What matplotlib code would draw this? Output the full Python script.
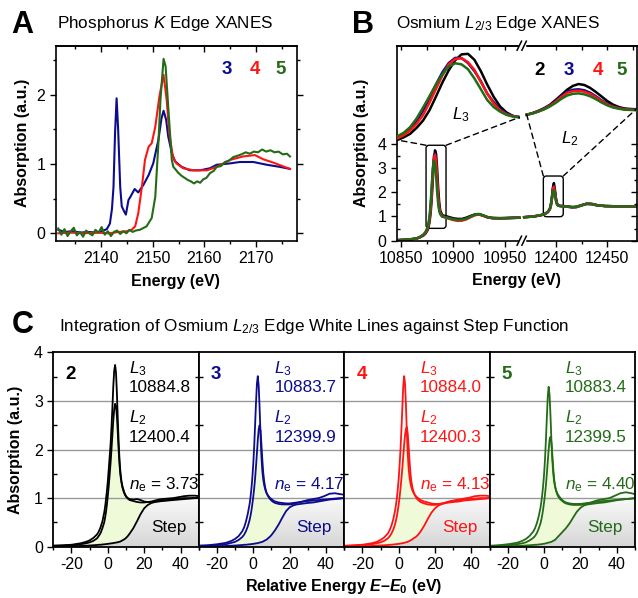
import numpy as np
import matplotlib
matplotlib.use("Agg")
import matplotlib.pyplot as plt
from matplotlib.ticker import MultipleLocator, FixedLocator
from matplotlib.patches import FancyBboxPatch, ConnectionPatch
from matplotlib.lines import Line2D
from matplotlib.colors import LinearSegmentedColormap

plt.rcParams['font.family'] = ['Liberation Sans', 'DejaVu Sans']
plt.rcParams['mathtext.fontset'] = 'custom'
plt.rcParams['mathtext.rm'] = 'Liberation Sans'
plt.rcParams['mathtext.it'] = 'Liberation Sans:italic'
plt.rcParams['mathtext.bf'] = 'Liberation Sans:bold'
plt.rcParams['mathtext.bfit'] = 'Liberation Sans:italic:bold'
plt.rcParams['axes.unicode_minus'] = False

BLK, BLU, RED, GRN = 'black', '#0c0c8c', '#ff1414', '#236b17'

# ---------------- panel A: P K edge ----------------
e_p3 = [2131.7, 2133, 2134.5, 2136, 2137.5, 2139, 2140.1, 2141.1, 2141.7, 2142.1, 2142.4,
        2142.7, 2143.0, 2143.3, 2143.7, 2144.0, 2144.5, 2144.8, 2145.3, 2145.7, 2146.5,
        2147.2, 2148.2, 2149.2, 2150.1, 2151.1, 2151.7, 2152.1, 2152.6, 2153.0, 2153.7,
        2154.3, 2155.6, 2157.2, 2159.2, 2161.1, 2162.4, 2165.0, 2166.9, 2169.5, 2172.1,
        2174.6, 2176.6]
a_p3 = [0.05, 0.02, 0.03, 0.01, 0.02, 0.01, 0.03, 0.06, 0.14, 0.35, 0.67, 1.45, 1.95, 1.5,
        0.67, 0.39, 0.31, 0.27, 0.48, 0.53, 0.64, 0.59, 0.7, 0.84, 1.01, 1.35, 1.66, 1.77,
        1.64, 1.4, 1.16, 1.04, 0.96, 0.91, 0.91, 0.94, 0.99, 1.01, 1.03, 1.03, 0.99, 0.96, 0.93]

e_p4 = [2131.7, 2134, 2136.5, 2139, 2141.5, 2143.5, 2145.0, 2145.9, 2146.6, 2147.2, 2147.9,
        2148.5, 2149.2, 2149.8, 2150.5, 2151.3, 2152.1, 2152.7, 2153.2, 2153.9, 2154.6,
        2155.9, 2157.9, 2160.5, 2162.4, 2165.0, 2167.5, 2169.8, 2171.4, 2173.4, 2176.6]
a_p4 = [0.0, 0.01, 0.0, 0.01, 0.0, 0.02, 0.03, 0.05, 0.1, 0.29, 0.67, 1.06, 1.25, 1.3, 1.54,
        1.98, 2.29, 1.93, 1.45, 1.11, 1.01, 0.94, 0.91, 0.91, 0.96, 1.06, 1.11, 1.13, 1.07,
        1.02, 0.93]

e_p5 = [2131.7, 2132.3, 2132.9, 2133.5, 2134.1, 2134.7, 2135.3, 2135.9, 2136.5, 2137.1,
        2137.7, 2138.3, 2138.9, 2139.5, 2140.1, 2140.7, 2141.3, 2141.9, 2142.5, 2143.1,
        2143.7, 2144.3, 2144.9, 2145.5, 2146.1, 2146.7,
        2147.5, 2148.8, 2149.8, 2150.5, 2151.1, 2151.5, 2152.1, 2152.5, 2153.0, 2153.7, 2154.0,
        2155.0, 2155.6, 2156.2, 2156.8, 2157.4, 2158.0, 2158.6, 2159.2, 2159.8, 2160.4,
        2161.1, 2161.8, 2162.4, 2163.2, 2164.0, 2164.8, 2165.6, 2166.4, 2167.2, 2168.0,
        2168.8, 2169.6, 2170.4, 2171.2, 2172.0, 2172.8, 2173.6, 2174.4, 2175.2, 2176.0, 2176.6]
a_p5 = [0.07, -0.02, 0.06, -0.04, 0.03, 0.08, -0.03, 0.02, -0.05, 0.04, 0.0, -0.03, 0.05,
        0.01, 0.09, -0.02, 0.03, -0.04, 0.02, 0.04, -0.01, 0.03, 0.0, 0.05, 0.02, 0.04,
        0.05, 0.1, 0.22, 0.53, 1.3, 1.93, 2.52, 2.41, 1.83, 1.06, 0.96,
        0.87, 0.83, 0.80, 0.77, 0.75, 0.72, 0.75, 0.73, 0.78, 0.80,
        0.87, 0.90, 0.96, 0.97, 1.03, 1.05, 1.10, 1.12, 1.14, 1.17,
        1.15, 1.18, 1.17, 1.21, 1.18, 1.20, 1.17, 1.18, 1.14, 1.15, 1.11]

# ---------------- panel B: Os L3 / L2 edges ----------------
e_b3 = [10846, 10855, 10862, 10866, 10869, 10872, 10874, 10876, 10877, 10878, 10879, 10880,
        10881, 10882, 10883, 10884, 10885, 10886, 10887, 10888, 10890, 10893, 10897, 10901,
        10905, 10909, 10913, 10917, 10921, 10925, 10929, 10933, 10938, 10945, 10952, 10958, 10964]
b3_2 = [.02, .04, .07, .1, .15, .22, .3, .45, .6, .85, 1.25, 1.85, 2.6, 3.3, 3.73, 3.6, 3.0, 2.2,
        1.6, 1.25, 1.05, 1.02, .97, .92, .9, .9, .95, 1.02, 1.08, 1.1, 1.05, .98, .94, .93, .94, .95, .95]
b3_3 = [.02, .04, .07, .1, .16, .24, .34, .52, .7, 1.0, 1.5, 2.2, 2.95, 3.5, 3.6, 3.25, 2.5, 1.8,
        1.35, 1.12, 1.0, .97, .92, .87, .85, .86, .9, .98, 1.06, 1.09, 1.04, .97, .93, .92, .93, .94, .95]
b3_4 = [.02, .04, .07, .1, .16, .24, .33, .5, .68, .95, 1.4, 2.05, 2.8, 3.4, 3.55, 3.3, 2.6, 1.85,
        1.4, 1.15, 1.0, .96, .9, .85, .82, .83, .88, .97, 1.05, 1.08, 1.03, .97, .93, .92, .93, .94, .95]
b3_5 = [.02, .04, .07, .11, .17, .26, .37, .56, .78, 1.1, 1.65, 2.35, 3.0, 3.3, 3.15, 2.7, 2.05, 1.55,
        1.25, 1.1, 1.0, .97, .93, .88, .86, .87, .91, .99, 1.07, 1.1, 1.05, .98, .94, .93, .93, .94, .95]

e_b2 = [12369, 12378, 12385, 12389, 12392, 12394, 12395, 12396, 12397, 12398, 12399, 12400,
        12401, 12402, 12404, 12407, 12412, 12416, 12420, 12425, 12430, 12435, 12440, 12448,
        12458, 12468, 12478]
b2_2 = [.97, 1.0, 1.05, 1.1, 1.18, 1.3, 1.45, 1.75, 2.2, 2.38, 2.1, 1.75, 1.55, 1.47, 1.44, 1.43,
        1.41, 1.39, 1.4, 1.47, 1.53, 1.52, 1.47, 1.43, 1.42, 1.42, 1.42]
b2_3 = [.97, 1.0, 1.05, 1.1, 1.18, 1.3, 1.46, 1.74, 2.12, 2.25, 2.0, 1.7, 1.52, 1.46, 1.43, 1.42,
        1.4, 1.38, 1.39, 1.46, 1.52, 1.51, 1.46, 1.43, 1.42, 1.42, 1.42]
b2_4 = [.97, 1.0, 1.05, 1.1, 1.18, 1.3, 1.45, 1.72, 2.1, 2.22, 1.98, 1.7, 1.52, 1.46, 1.43, 1.42,
        1.4, 1.38, 1.39, 1.46, 1.52, 1.51, 1.46, 1.43, 1.42, 1.42, 1.42]
b2_5 = [.97, 1.0, 1.05, 1.1, 1.19, 1.32, 1.48, 1.75, 2.05, 2.08, 1.88, 1.63, 1.5, 1.45, 1.43, 1.42,
        1.4, 1.38, 1.39, 1.46, 1.52, 1.51, 1.46, 1.43, 1.42, 1.42, 1.42]

# magnified white lines
e_i3 = [10874.5, 10875.5, 10876.5, 10877.5, 10878.5, 10879.5, 10880.5, 10881.5, 10882.5,
        10883.5, 10884.5, 10885.5, 10886.5, 10887.5, 10888.5, 10889.5, 10890.5, 10891.5,
        10892.5, 10893.5]
i3_2 = [.5, .6, .73, .95, 1.22, 1.6, 2.1, 2.62, 3.08, 3.45, 3.67, 3.69, 3.47, 3.05, 2.55, 2.1,
        1.74, 1.52, 1.39, 1.34]
i3_3 = [.6, .72, .9, 1.2, 1.58, 2.05, 2.55, 3.0, 3.35, 3.54, 3.53, 3.35, 3.05, 2.68, 2.22, 1.9,
        1.65, 1.48, 1.39, 1.35]
i3_4 = [.56, .68, .85, 1.1, 1.42, 1.88, 2.38, 2.88, 3.3, 3.5, 3.53, 3.38, 3.1, 2.65, 2.22, 1.85,
        1.6, 1.45, 1.38, 1.35]
i3_5 = [.64, .77, .98, 1.3, 1.7, 2.12, 2.55, 2.93, 3.22, 3.34, 3.3, 3.12, 2.78, 2.38, 1.98, 1.72,
        1.55, 1.43, 1.37, 1.34]

e_i2 = [12388, 12389, 12390, 12391, 12392, 12393, 12394, 12395, 12396, 12397, 12398, 12399,
        12400, 12401, 12402, 12403, 12404, 12405, 12406, 12407]
i2_2 = [1.06, 1.13, 1.22, 1.33, 1.47, 1.67, 1.88, 2.1, 2.26, 2.34, 2.3, 2.18, 2.01, 1.82, 1.63,
        1.48, 1.38, 1.32, 1.3, 1.29]
i2_3 = [1.06, 1.12, 1.2, 1.31, 1.44, 1.62, 1.84, 2.02, 2.1, 2.12, 2.08, 1.98, 1.83, 1.66, 1.52,
        1.41, 1.34, 1.3, 1.28, 1.28]
i2_4 = [1.06, 1.12, 1.2, 1.3, 1.43, 1.6, 1.8, 1.97, 2.04, 2.06, 2.02, 1.93, 1.79, 1.63, 1.49,
        1.39, 1.33, 1.29, 1.27, 1.26]
i2_5 = [1.06, 1.11, 1.19, 1.28, 1.4, 1.55, 1.72, 1.86, 1.93, 1.95, 1.91, 1.83, 1.71, 1.57, 1.45,
        1.36, 1.31, 1.27, 1.26, 1.25]

# ---------------- panel C: white line integration ----------------
e_rel = [-30, -25, -20, -15, -12, -10, -8, -6, -5, -4, -3,
         -2, -1.5, -1, -0.5, 0, 0.5, 1, 1.5, 2, 2.5, 3, 3.5, 4, 4.5, 5, 5.5, 6, 6.5, 7, 7.5, 8,
         9, 10, 11, 12, 14, 16, 18, 20, 22, 24, 26, 28, 30, 33, 36, 39, 42, 45, 48, 50]

c2_l3 = [.02, .03, .04, .07, .1, .13, .18, .25, .31, .4, .52,
         .7, .82, .98, 1.15, 1.35, 1.6, 1.85, 2.1, 2.45, 2.85, 3.3, 3.62, 3.74, 3.58, 3.15, 2.6, 2.1, 1.75, 1.5, 1.35, 1.25,
         1.12, 1.04, 1.0, .98, .97, .98, .96, .93, .92, .92, .93, .94, .95, .96, .98, .99, 1.0, 1.0, 1.0, 1.0]
c2_l2 = [.02, .02, .03, .05, .07, .09, .12, .17, .22, .28, .38,
         .5, .6, .72, .87, 1.05, 1.25, 1.48, 1.72, 2.0, 2.3, 2.6, 2.82, 2.94, 2.9, 2.68, 2.33, 1.95, 1.65, 1.45, 1.32, 1.22,
         1.1, 1.03, .99, .96, .94, .92, .91, .91, .92, .93, .95, .97, .98, .99, 1.0, 1.02, 1.04, 1.05, 1.05, 1.04]
c2_st = [0, .005, .01, .015, .02, .025, .03, .035, .04, .04, .045,
         .05, .05, .055, .055, .06, .06, .065, .065, .07, .07, .075, .08, .08, .085, .09, .09, .1, .1, .11, .12, .13,
         .15, .18, .22, .27, .38, .52, .67, .79, .86, .9, .92, .93, .94, .95, .96, .97, .98, .99, 1.0, 1.0]

c3_l3 = [.02, .03, .05, .08, .12, .16, .22, .32, .4, .52, .68,
         .88, 1.02, 1.2, 1.42, 1.7, 2.05, 2.5, 2.95, 3.35, 3.51, 3.3, 2.85, 2.3, 1.85, 1.55, 1.38, 1.27, 1.19, 1.13, 1.09, 1.06,
         1.01, .98, .95, .93, .91, .9, .89, .89, .9, .91, .92, .93, .94, .95, .96, .97, .98, .99, 1.0, 1.0]
c3_l2 = [.02, .02, .03, .05, .08, .1, .14, .2, .25, .32, .42,
         .55, .64, .75, .88, 1.03, 1.2, 1.4, 1.65, 1.92, 2.2, 2.42, 2.5, 2.38, 2.1, 1.78, 1.52, 1.35, 1.23, 1.15, 1.09, 1.05,
         .99, .95, .92, .9, .88, .87, .87, .87, .88, .9, .92, .94, .96, .98, 1.0, 1.04, 1.09, 1.1, 1.08, 1.07]
c3_st = [0, .005, .01, .015, .02, .025, .03, .035, .04, .04, .045,
         .05, .05, .055, .055, .06, .06, .065, .07, .07, .075, .08, .085, .09, .095, .1, .11, .12, .13, .14, .15, .17,
         .2, .24, .29, .34, .46, .6, .73, .81, .85, .87, .88, .89, .9, .91, .93, .95, .97, .98, .99, 1.0]

c4_l3 = [.02, .03, .04, .07, .1, .14, .19, .27, .34, .43, .56,
         .74, .86, 1.0, 1.18, 1.4, 1.68, 2.0, 2.4, 2.85, 3.3, 3.51, 3.35, 2.9, 2.35, 1.9, 1.6, 1.42, 1.3, 1.22, 1.16, 1.12,
         1.06, 1.02, .99, .96, .93, .91, .89, .88, .88, .89, .91, .93, .94, .95, .97, .98, .99, 1.0, 1.0, 1.0]
c4_l2 = [.01, .02, .03, .05, .07, .09, .12, .17, .21, .27, .35,
         .46, .54, .63, .74, .87, 1.02, 1.2, 1.4, 1.62, 1.86, 2.1, 2.3, 2.43, 2.46, 2.32, 2.05, 1.75, 1.5, 1.34, 1.23, 1.15,
         1.05, .99, .95, .92, .89, .87, .86, .86, .87, .89, .91, .93, .95, .97, .99, 1.01, 1.04, 1.05, 1.05, 1.04]
c4_st = [0, .005, .01, .015, .02, .025, .03, .035, .04, .04, .045,
         .05, .05, .055, .055, .06, .06, .065, .07, .07, .075, .08, .085, .09, .095, .1, .11, .12, .13, .14, .15, .17,
         .19, .22, .26, .31, .43, .57, .7, .79, .85, .88, .9, .91, .92, .93, .95, .96, .97, .98, .99, 1.0]

c5_l3 = [.02, .03, .05, .08, .12, .16, .22, .31, .38, .48, .62,
         .8, .93, 1.08, 1.27, 1.5, 1.8, 2.2, 2.65, 3.08, 3.29, 3.12, 2.7, 2.2, 1.8, 1.52, 1.35, 1.24, 1.17, 1.12, 1.08, 1.05,
         1.0, .96, .93, .91, .89, .88, .88, .88, .89, .9, .91, .92, .93, .94, .95, .96, .97, .98, .99, 1.0]
c5_l2 = [.01, .02, .03, .05, .07, .09, .13, .18, .22, .28, .37,
         .48, .56, .66, .78, .92, 1.08, 1.27, 1.5, 1.75, 2.0, 2.2, 2.26, 2.15, 1.9, 1.62, 1.4, 1.26, 1.16, 1.1, 1.05, 1.02,
         .97, .94, .91, .89, .87, .86, .86, .86, .87, .89, .91, .94, .96, .98, 1.0, 1.05, 1.1, 1.12, 1.1, 1.08]
c5_st = [0, .005, .01, .015, .02, .025, .03, .035, .04, .04, .045,
         .05, .05, .055, .06, .06, .065, .07, .075, .08, .085, .09, .095, .1, .11, .12, .13, .14, .16, .18, .2, .22,
         .26, .3, .34, .38, .48, .6, .72, .8, .85, .87, .88, .89, .9, .91, .93, .95, .97, .98, .99, 1.0]

samples = ['2', '3', '4', '5']
colors = [BLK, BLU, RED, GRN]
l3_edge = ['10884.8', '10883.7', '10884.0', '10883.4']
l2_edge = ['12400.4', '12399.9', '12400.3', '12399.5']
n_e = ['3.73', '4.17', '4.13', '4.40']

W, H = 638, 598
fig = plt.figure(figsize=(W / 100, H / 100), dpi=100)


def rect(l, t, r, b):
    return [l / W, 1 - b / H, (r - l) / W, (b - t) / H]


def ftext(x, y, s, **kw):
    fig.text(x / W, 1 - y / H, s, **kw)


TICK = 11.5
LAB = 11.5

# ================= A =================
axA = fig.add_axes(rect(55.7, 45.7, 296.7, 240.7))
axA.plot(e_p3, a_p3, color=BLU, lw=1.5)
axA.plot(e_p4, a_p4, color=RED, lw=1.5)
axA.plot(e_p5, a_p5, color=GRN, lw=1.5)
axA.set_xlim(2131.2, 2177.9)
axA.set_ylim(-0.107, 2.71)
axA.xaxis.set_major_locator(FixedLocator([2140, 2150, 2160, 2170]))
axA.xaxis.set_minor_locator(MultipleLocator(5))
axA.yaxis.set_major_locator(FixedLocator([0, 1, 2]))
axA.yaxis.set_minor_locator(MultipleLocator(0.5))
axA.tick_params(which='both', direction='out', labelsize=TICK, width=1, right=True)
axA.tick_params(which='major', length=4)
axA.tick_params(which='minor', length=2.5)
secA = axA.secondary_xaxis('top')
secA.xaxis.set_major_locator(FixedLocator([2140, 2150, 2160, 2170]))
secA.xaxis.set_minor_locator(MultipleLocator(5))
secA.tick_params(which='both', direction='in', labeltop=False, width=1)
secA.tick_params(which='major', length=4)
secA.tick_params(which='minor', length=2.5)
for sp in list(axA.spines.values()) + [secA.spines['top']]:
    sp.set_linewidth(1.2)

for s, x, c in zip(['3', '4', '5'], [226.7, 255, 280.7], [BLU, RED, GRN]):
    ftext(x, 70, s, color=c, fontsize=13.5, fontweight='bold', ha='center', va='center')

ftext(11.7, 33.3, 'A', fontsize=22, fontweight='bold', ha='left', va='baseline')
ftext(57.3, 28.3, 'Phosphorus $K$ Edge XANES', fontsize=12.3, ha='left', va='baseline')
ftext(22.5, 142.5, 'Absorption (a.u.)', fontsize=LAB, fontweight='bold', rotation=90,
      ha='center', va='center')
ftext(175.8, 281.7, 'Energy (eV)', fontsize=LAB, fontweight='bold', ha='center', va='center')

# ================= B =================
axBL = fig.add_axes(rect(396.7, 45.7, 521.7, 240.7))
axBR = fig.add_axes(rect(521.7, 45.7, 636.7, 240.7))
for ys, c in zip([b3_2, b3_3, b3_4, b3_5], colors):
    axBL.plot(e_b3, ys, color=c, lw=1.8)
for ys, c in zip([b2_2, b2_3, b2_4, b2_5], colors):
    axBR.plot(e_b2, ys, color=c, lw=1.8)
axBL.set_xlim(10846.2, 10966.3)
axBR.set_xlim(12366.6, 12478.7)
for ax in (axBL, axBR):
    ax.set_ylim(0, 8.05)
    for sp in ax.spines.values():
        sp.set_linewidth(1.2)
axBL.spines['right'].set_visible(False)
axBR.spines['left'].set_visible(False)

axBL.xaxis.set_major_locator(FixedLocator([10850, 10900, 10950]))
axBL.xaxis.set_minor_locator(FixedLocator([10875, 10925]))
axBR.xaxis.set_major_locator(FixedLocator([12400, 12450]))
axBR.xaxis.set_minor_locator(FixedLocator([12425]))
axBL.yaxis.set_major_locator(FixedLocator([0, 1, 2, 3, 4]))
axBL.yaxis.set_minor_locator(FixedLocator([0.5, 1.5, 2.5, 3.5]))
axBR.yaxis.tick_right()
axBR.yaxis.set_major_locator(FixedLocator([0, 1, 2, 3, 4]))
axBR.yaxis.set_minor_locator(FixedLocator([0.5, 1.5, 2.5, 3.5]))
for ax in (axBL, axBR):
    ax.tick_params(axis='x', which='both', direction='out', labelsize=TICK, width=1)
    ax.tick_params(axis='x', which='major', length=4)
    ax.tick_params(axis='x', which='minor', length=2.5)
axBL.tick_params(axis='y', which='major', direction='out', length=4, width=1, labelsize=TICK)
axBL.tick_params(axis='y', which='minor', direction='in', length=2.5, width=1)
axBR.tick_params(axis='y', which='both', direction='in', width=1, labelright=False)
axBR.tick_params(axis='y', which='major', length=4)
axBR.tick_params(axis='y', which='minor', length=2.5)
for ax, tks in ((axBL, [10850, 10875, 10900, 10925, 10950]), (axBR, [12400, 12425, 12450, 12475])):
    sec = ax.secondary_xaxis('top')
    sec.xaxis.set_major_locator(FixedLocator(tks))
    sec.tick_params(direction='in', length=3, width=1, labeltop=False)
    sec.spines['top'].set_linewidth(1.2)

# break marks on the axis
for yb in (45.7, 240.7):
    fig.add_artist(Line2D([519.5 / W, 523.9 / W], [1 - yb / H] * 2, color='white', lw=2.5,
                          transform=fig.transFigure))
    for xc in (519.3, 524.1):
        fig.add_artist(Line2D([(xc - 2.2) / W, (xc + 2.2) / W], [1 - (yb + 4.5) / H, 1 - (yb - 4.5) / H],
                              color='black', lw=1.1, transform=fig.transFigure))

# magnified insets
axI3 = fig.add_axes(rect(396.7, 46, 520, 150))
axI2 = fig.add_axes(rect(525, 46, 636.7, 150))
for ys, c in zip([i3_2, i3_3, i3_4, i3_5], colors):
    axI3.plot(e_i3, ys, color=c, lw=1.8)
for ys, c in zip([i2_2, i2_3, i2_4, i2_5], colors):
    axI2.plot(e_i2, ys, color=c, lw=1.8)
axI3.set_xlim(10874.4, 10893.6)
axI3.set_ylim(0.13, 3.98)
axI2.set_xlim(12387.7, 12407.1)
axI2.set_ylim(-0.41, 3.925)
axI3.set_axis_off()
axI2.set_axis_off()

box3 = FancyBboxPatch((10874.4, 0.51), 19.2, 3.43, boxstyle='round,pad=0,rounding_size=3',
                      mutation_aspect=0.041, fc='none', ec='black', lw=1)
box2 = FancyBboxPatch((12387.7, 0.99), 19.4, 1.68, boxstyle='round,pad=0,rounding_size=3',
                      mutation_aspect=0.042, fc='none', ec='black', lw=1)
axBL.add_patch(box3)
axBR.add_patch(box2)
dash = dict(color='black', lw=1, linestyle=(0, (4, 3)))
for xyA, axA_, xyB, axB_ in [((10874.4, 3.94), axBL, (e_i3[0], i3_2[0]), axI3),
                             ((10893.6, 3.94), axBL, (e_i3[-1], i3_2[-1]), axI3),
                             ((12387.7, 2.67), axBR, (e_i2[0], i2_2[0]), axI2),
                             ((12407.1, 2.67), axBR, (e_i2[-1], i2_2[-1]), axI2)]:
    fig.add_artist(ConnectionPatch(xyA=xyA, coordsA='data', axesA=axA_,
                                   xyB=xyB, coordsB='data', axesB=axB_, **dash))

ftext(461, 115, '$L_3$', fontsize=12.3, ha='center', va='center')
ftext(570, 139, '$L_2$', fontsize=12.3, ha='center', va='center')
for s, x, c in zip(samples, [540, 569.3, 597.7, 621.7], colors):
    ftext(x, 70.7, s, color=c, fontsize=13.5, fontweight='bold', ha='center', va='center')

ftext(351.7, 33.3, 'B', fontsize=22, fontweight='bold', ha='left', va='baseline')
ftext(396, 28.3, 'Osmium $L_{2/3}$ Edge XANES', fontsize=12.3, ha='left', va='baseline')
ftext(361.7, 142.5, 'Absorption (a.u.)', fontsize=LAB, fontweight='bold', rotation=90,
      ha='center', va='center')
ftext(516.7, 280, 'Energy (eV)', fontsize=LAB, fontweight='bold', ha='center', va='center')

# ================= C =================
gray = LinearSegmentedColormap.from_list('stepgray', ['#d6d6d6', '#fbfbfb'])
grad = np.linspace(0, 1, 200).reshape(-1, 1)
c_data = [(c2_l3, c2_l2, c2_st), (c3_l3, c3_l2, c3_st), (c4_l3, c4_l2, c4_st), (c5_l3, c5_l2, c5_st)]
pw = (635 - 53.3) / 4
for i, ((l3, l2, st), c) in enumerate(zip(c_data, colors)):
    x0 = 53.3 + i * pw
    ax = fig.add_axes(rect(x0, 352.3, x0 + pw, 546.7))
    l3 = np.array(l3)
    l2 = np.array(l2)
    st = np.array(st)
    under = ax.fill_between(e_rel, 0, st, facecolor='none', edgecolor='none')
    im = ax.imshow(grad, extent=(-30, 50, 0, 1.05), origin='lower', cmap=gray, aspect='auto', zorder=0.5)
    im.set_clip_path(under.get_paths()[0], transform=ax.transData)
    low = np.minimum(l3, l2)
    ax.fill_between(e_rel, st, low, where=low >= st, interpolate=True, facecolor='#effad9',
                    edgecolor='none', zorder=0.6)
    for yv in (1, 2, 3):
        ax.axhline(yv, color='#9a9a9a', lw=1, zorder=0.7)
    ax.plot(e_rel, st, color=c, lw=1.3, zorder=2)
    ax.plot(e_rel, l2, color=c, lw=1.3, zorder=2)
    ax.plot(e_rel, l3, color=c, lw=1.3, zorder=2)
    ax.set_xlim(-30, 50)
    ax.set_ylim(0, 4)
    ax.xaxis.set_major_locator(FixedLocator([-20, 0, 20, 40]))
    ax.xaxis.set_minor_locator(MultipleLocator(10))
    ax.tick_params(axis='x', which='both', direction='out', labelsize=TICK, width=1)
    ax.tick_params(axis='x', which='major', length=4)
    ax.tick_params(axis='x', which='minor', length=2.5)
    ax.yaxis.set_major_locator(FixedLocator([0, 1, 2, 3, 4]))
    ax.yaxis.set_minor_locator(FixedLocator([0.5, 1.5, 2.5, 3.5]))
    ax.tick_params(axis='y', which='minor', direction='in', length=3, width=1, left=True, right=True)
    if i == 0:
        ax.tick_params(axis='y', which='major', direction='out', length=4, width=1, labelsize=TICK)
    else:
        ax.tick_params(axis='y', which='major', length=0, labelleft=False)
    for sp in ax.spines.values():
        sp.set_linewidth(1.3)
        sp.set_zorder(3)

    ax.text(0.085, 0.861, samples[i], transform=ax.transAxes, color=c, fontsize=13.5,
            fontweight='bold', ha='left', va='baseline')
    ax.text(0.52, 0.892, '$L_3$', transform=ax.transAxes, color=c, fontsize=12.3, ha='left', va='baseline')
    ax.text(0.52, 0.797, l3_edge[i], transform=ax.transAxes, color=c, fontsize=12.3, ha='left', va='baseline')
    ax.text(0.52, 0.64, '$L_2$', transform=ax.transAxes, color=c, fontsize=12.3, ha='left', va='baseline')
    ax.text(0.52, 0.54, l2_edge[i], transform=ax.transAxes, color=c, fontsize=12.3, ha='left', va='baseline')
    ax.text(0.52, 0.297, '$n_\\mathrm{e}$ = ' + n_e[i], transform=ax.transAxes, color=c, fontsize=12.3,
            ha='left', va='baseline')
    ax.text(0.915, 0.074, 'Step', transform=ax.transAxes, color=c, fontsize=12.3, ha='right', va='baseline')

ftext(11.7, 333.3, 'C', fontsize=22, fontweight='bold', ha='left', va='baseline')
ftext(59.3, 330.7, 'Integration of Osmium $L_{2/3}$ Edge White Lines against Step Function',
      fontsize=12.3, ha='left', va='baseline')
ftext(16, 449.5, 'Absorption (a.u.)', fontsize=LAB, fontweight='bold', rotation=90,
      ha='center', va='center')
ftext(344, 586, 'Relative Energy $\\mathbfit{E}$\u2013$\\mathbfit{E}_\\mathbf{0}$ (eV)', fontsize=LAB,
      fontweight='bold', ha='center', va='center')

fig.savefig('out.png', dpi=100)
